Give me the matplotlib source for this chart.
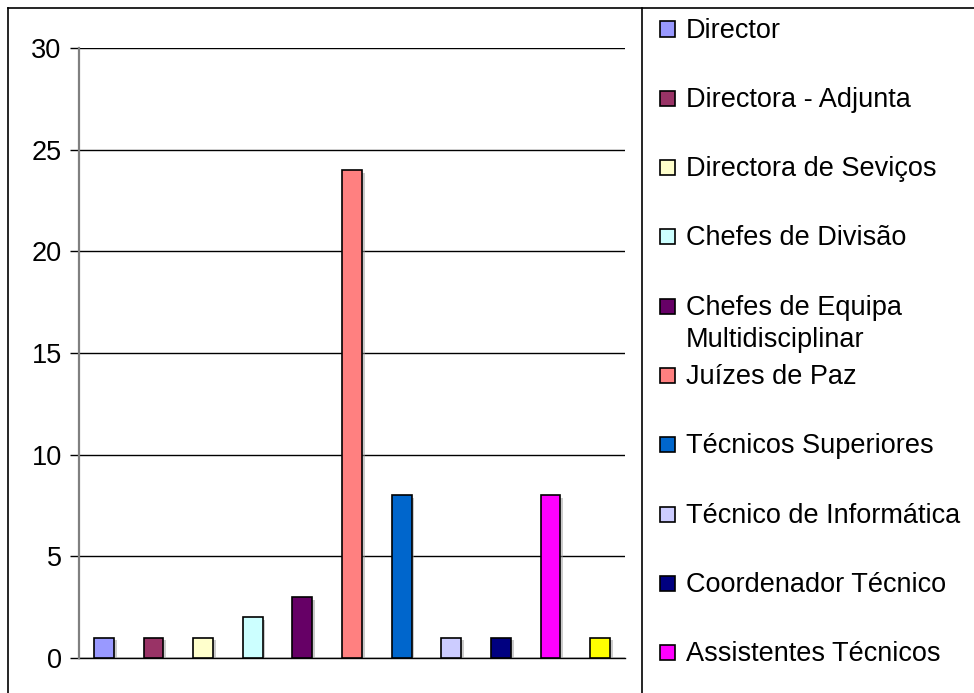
import matplotlib
matplotlib.use("Agg")
import matplotlib.pyplot as plt
import matplotlib.patheffects as pe
from matplotlib.lines import Line2D
from matplotlib.patches import Rectangle

categories = [
    "Director",
    "Directora - Adjunta",
    "Directora de Seviços",
    "Chefes de Divisão",
    "Chefes de Equipa\nMultidisciplinar",
    "Juízes de Paz",
    "Técnicos Superiores",
    "Técnico de Informática",
    "Coordenador Técnico",
    "Assistentes Técnicos",
    "Assistentes Operacionais",
]
values = [1, 1, 1, 2, 3, 24, 8, 1, 1, 8, 1]
colors = ["#9999FF", "#993366", "#FFFFCC", "#CCFFFF", "#660066", "#FF8080",
          "#0066CC", "#CCCCFF", "#000080", "#FF00FF", "#FFFF00"]
legend_shown = 10  # legend in the original is cut after ten entries
yticks = [0, 5, 10, 15, 20, 25, 30]

W, H = 974, 693
plt.rcParams['font.family'] = ['Liberation Sans', 'DejaVu Sans']
fig = plt.figure(figsize=(W / 100, H / 100), dpi=100)

def fx(px):
    return px / W

def fy(py):
    return 1 - py / H

ax = fig.add_axes([fx(79), fy(658), fx(625) - fx(79), fy(48) - fy(658)])
x = list(range(len(values)))
bars = ax.bar(x, values, width=0.4, color=colors, edgecolor="black",
              linewidth=1.2, zorder=3)
for b in bars:
    b.set_path_effects([pe.SimplePatchShadow(offset=(2, -2), shadow_rgbFace="#999999", alpha=0.5),
                        pe.Normal()])

ax.set_xlim(-0.5, len(values) - 0.5)
ax.set_ylim(0, 30)
ax.set_yticks(yticks)
ax.set_xticks([])
ax.yaxis.grid(True, color="black", linewidth=1.0, zorder=0)
ax.set_axisbelow(True)
ax.tick_params(axis="y", length=6.5, width=1.0, color="black", labelsize=19.5, pad=6)
for s in ["top", "right"]:
    ax.spines[s].set_visible(False)
ax.spines["left"].set_color("#808080")
ax.spines["left"].set_linewidth(1.6)
ax.spines["left"].set_zorder(4)
ax.spines["bottom"].set_color("black")
ax.spines["bottom"].set_linewidth(1.0)

# Outer frame and divider
fig.add_artist(Line2D([fx(8), fx(8)], [fy(8), 0], transform=fig.transFigure, color="black", lw=1.2))
fig.add_artist(Line2D([fx(8), 1], [fy(8), fy(8)], transform=fig.transFigure, color="black", lw=1.2))
fig.add_artist(Line2D([fx(642), fx(642)], [fy(8), 0], transform=fig.transFigure, color="black", lw=1.2))

# Legend
step = 69.3
for i in range(legend_shown):
    cy = 29 + i * step
    fig.add_artist(Rectangle((fx(660), fy(cy + 7.5)), fx(15), 15 / H, transform=fig.transFigure,
                             facecolor=colors[i], edgecolor="black", lw=1.2))
    for k, line in enumerate(categories[i].split("\n")):
        fig.text(fx(686), fy(37.5 + i * step + k * 32), line, fontsize=19.5,
                 va="baseline", ha="left", color="black")

fig.savefig("out.png", dpi=100)
